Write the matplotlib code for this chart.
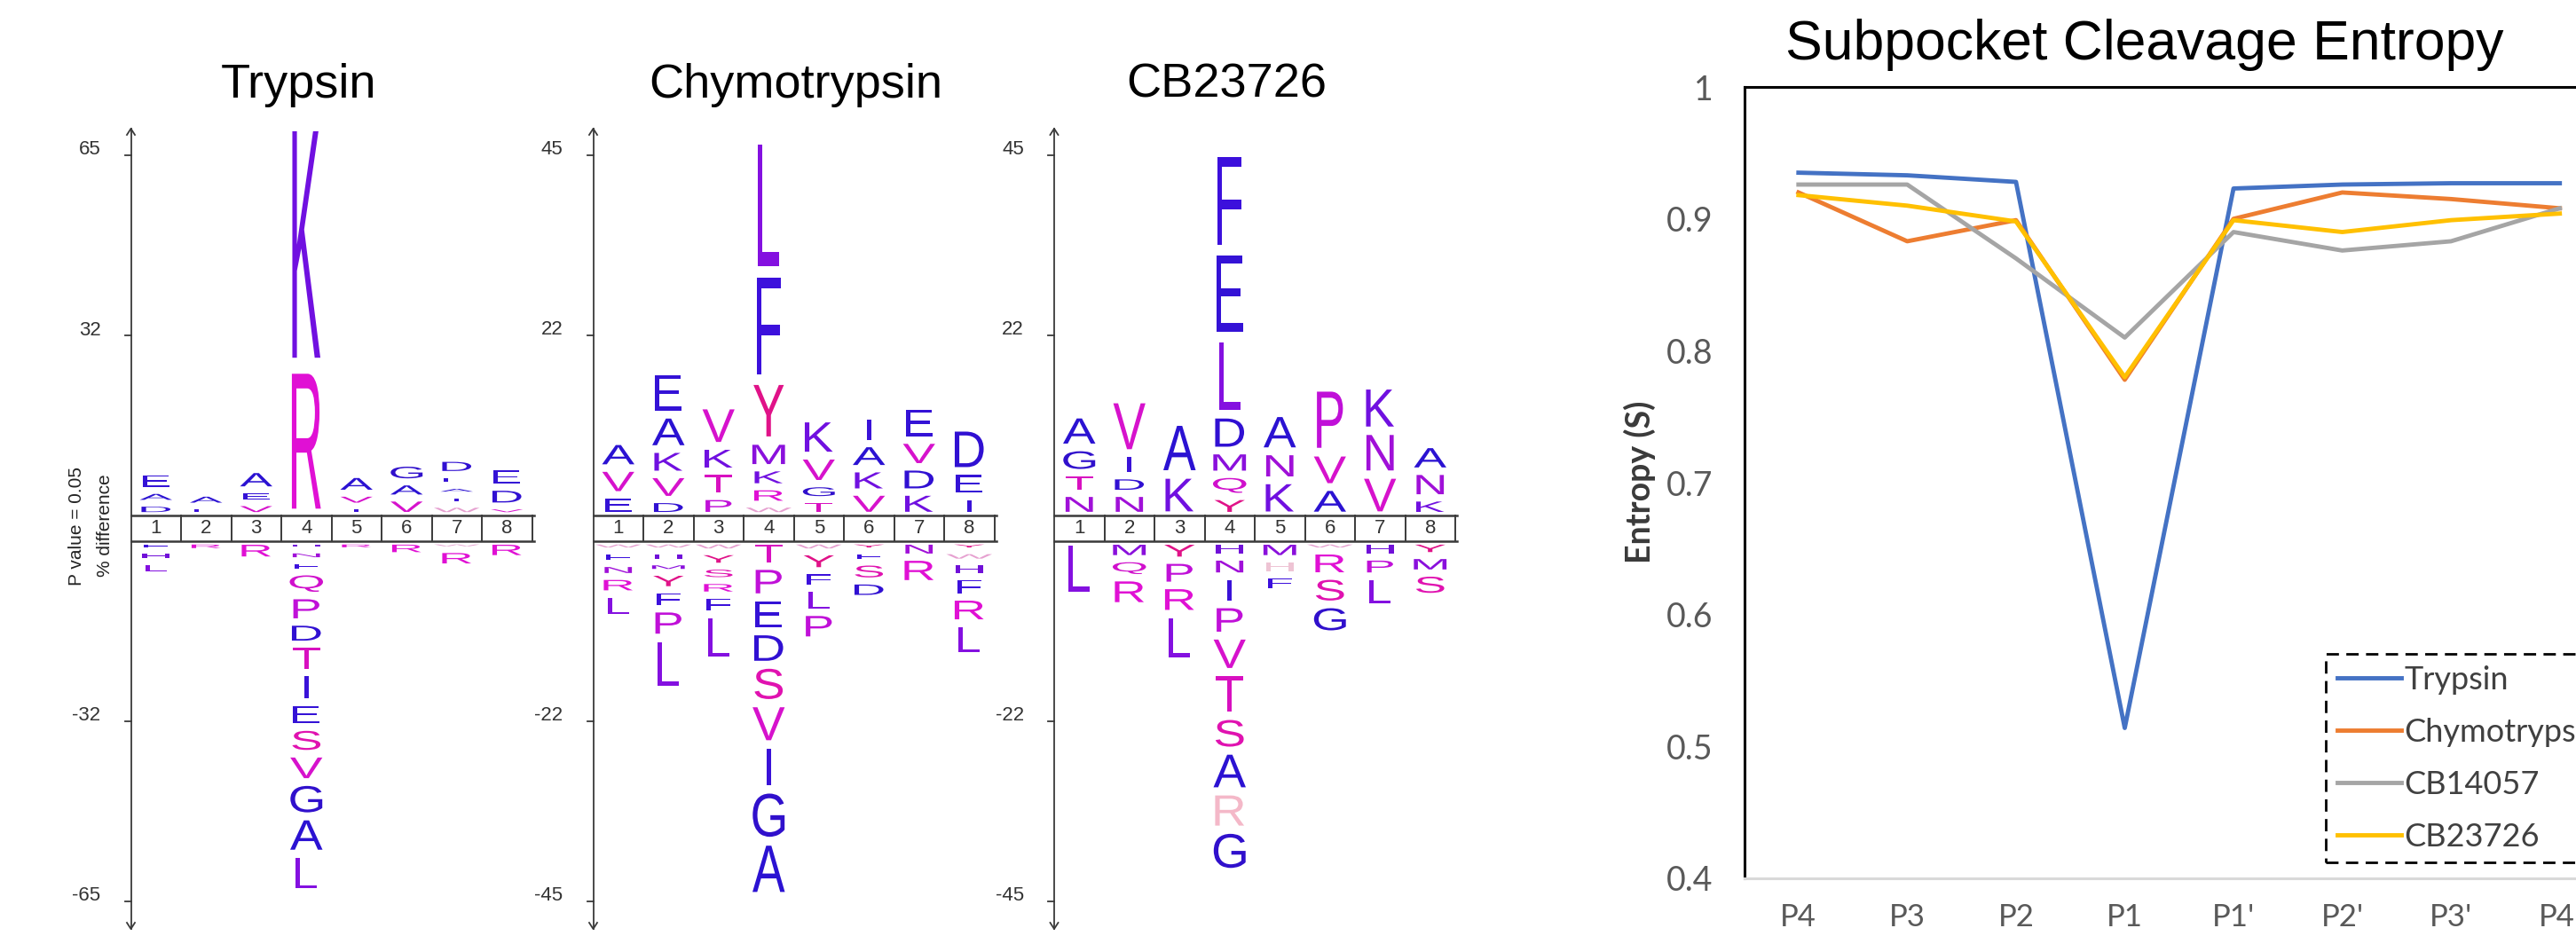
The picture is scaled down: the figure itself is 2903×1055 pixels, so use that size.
import numpy as np
import matplotlib
matplotlib.use('Agg')
import matplotlib.pyplot as plt
from matplotlib.textpath import TextPath
from matplotlib.patches import PathPatch
from matplotlib.font_manager import FontProperties, fontManager
import matplotlib.transforms as mtransforms

# ---- logo data: letters listed from the box outward, heights in % difference ----
positions = [1, 2, 3, 4, 5, 6, 7, 8]

tryp_max = 65
tryp_up = ["DAE", "FA", "VEA", "RK", "IVA", "VAG", "WIAED", "VDE"]
tryp_up_h = [[2.2, 2.3, 3.4], [1.7, 2.3], [2.3, 2.3, 3.7], [26.8, 44.2], [1.7, 2.3, 3.4],
             [3.15, 2.9, 3.4], [2.0, 1.7, 1.7, 2.0, 2.9], [1.7, 3.4, 3.7]]
tryp_dn = ["FHL", "R", "R", "HNFQPDTIESVGAL", "R", "R", "WR", "R"]
tryp_dn_h = [[1.7, 2.0, 2.3], [1.85], [3.4],
             [1.6, 1.9, 2.0, 4.3, 4.8, 4.0, 5.1, 5.4, 4.45, 4.8, 5.1, 6.2, 6.75, 7.0],
             [1.7], [2.6], [1.5, 3.15], [3.15]]

chym_max = 45
chym_up = ["EVA", "DVKAE", "PTKV", "WRKMYFL", "TGVK", "VKAI", "KDVE", "IED"]
chym_up_h = [[2.57, 3.35, 3.35], [1.98, 3.15, 3.15, 4.32, 5.48], [2.37, 3.15, 3.15, 5.1],
             [1.4, 2.18, 2.37, 3.35, 7.58, 13.5, 16.8], [1.98, 1.98, 3.5, 4.67],
             [2.92, 2.92, 3.15, 3.5], [2.92, 3.15, 3.35, 4.32], [2.37, 3.15, 5.48]]
chym_dn = ["WFNRL", "WHMYFPL", "WYSRFL", "TPEDSVIGA", "WYFLP", "YFSD", "NR", "YWHFRL"]
chym_dn_h = [[1.2, 1.6, 1.6, 2.18, 2.95], [1.2, 1.4, 1.28, 2.18, 2.37, 3.6, 6.6],
             [1.32, 1.8, 1.8, 1.8, 2.37, 5.9], [3.1, 3.9, 4.27, 4.16, 4.8, 5.15, 5.6, 6.5, 6.9],
             [1.32, 2.37, 2.18, 3.0, 3.5], [1.2, 1.4, 2.37, 2.18], [1.98, 3.35],
             [1.2, 1.4, 1.79, 2.57, 3.27, 4.08]]

cb_max = 45
cb_up = ["NTGA", "NDIV", "KA", "YQMDLEF", "KNA", "AVP", "VNK", "KNA"]
cb_up_h = [[2.77, 2.57, 3.15, 4.12], [2.77, 2.18, 2.77, 6.85], [5.1, 6.65],
           [2.37, 2.77, 2.95, 4.52, 9.68, 10.85, 12.3], [4.4, 3.6, 4.8], [3.54, 4.32, 8.2],
           [5.1, 5.48, 5.68], [2.18, 3.35, 3.35]]
cb_dn = ["L", "MQR", "YPRL", "HNIPVTSARG", "MHF", "WRSG", "HPL", "YMS"]
cb_dn_h = [[6.85], [2.18, 2.37, 3.54], [2.37, 3.15, 3.54, 5.95],
           [1.98, 2.37, 3.54, 3.9, 4.55, 5.5, 4.32, 5.1, 4.78, 5.3],
           [2.18, 1.98, 2.18], [1.2, 3.15, 3.54, 3.73], [1.98, 2.37, 3.93], [1.79, 2.18, 2.95]]

letter_colors = {
    'A': '#2b12d2', 'E': '#3412d6', 'D': '#3010d2', 'G': '#3010cc', 'I': '#3a12d8',
    'F': '#3c10dc', 'K': '#7010e0', 'L': '#8410e0', 'M': '#8a10dc', 'H': '#7010d8',
    'N': '#a010d8', 'R': '#e010d4', 'V': '#d612cc', 'P': '#c010d8', 'Q': '#d010cc',
    'S': '#e012b0', 'T': '#d810c0', 'Y': '#e01288', 'W': '#e6a0d0',
}
color_overrides = {('cb', 'dn', 4, 8): '#f4b8c8', ('cb', 'dn', 5, 1): '#eec4d4'}

# ---- line chart data ----
sites = ["P4", "P3", "P2", "P1", "P1'", "P2'", "P3'", "P4'"]
trypsin = [0.935, 0.933, 0.928, 0.514, 0.923, 0.926, 0.927, 0.927]
chymotrypsin = [0.920, 0.883, 0.899, 0.778, 0.900, 0.920, 0.915, 0.908]
cb14057 = [0.926, 0.926, 0.870, 0.810, 0.890, 0.876, 0.883, 0.908]
cb23726 = [0.918, 0.910, 0.898, 0.780, 0.899, 0.890, 0.899, 0.904]
series_names = ["Trypsin", "Chymotrypsin", "CB14057", "CB23726"]
series_colors = ['#4472c4', '#ed7d31', '#a5a5a5', '#ffc000']

W, H = 2903, 1055
fig = plt.figure(figsize=(W / 100, H / 100), dpi=100)

names = {f.name for f in fontManager.ttflist}
narrow = 'Liberation Sans Narrow' if 'Liberation Sans Narrow' in names else 'Liberation Sans'
glyph_fp = FontProperties(family='Liberation Sans')


def fig_rect(left, top, right, bottom):
    return [left / W, 1 - bottom / H, (right - left) / W, (bottom - top) / H]


CELL = 56.5
EM_PX = 55.0
BOX_TOP, BOX_BOT = 581, 610
CENTER = (BOX_TOP + BOX_BOT) / 2
SPAN = 406


def draw_glyph(ax, ch, xc, y0, gh, color):
    tp = TextPath((0, 0), ch, size=1, prop=glyph_fp)
    bb = tp.get_extents()
    tr = (mtransforms.Affine2D().translate(-(bb.x0 + bb.x1) / 2, -bb.y0)
          .scale(EM_PX / CELL, gh / bb.height).translate(xc, y0))
    ax.add_patch(PathPatch(tr.transform_path(tp), facecolor=color, edgecolor='none',
                           clip_on=False))


def draw_stack(ax, key, side, pos, letters, heights, b, k):
    sign = 1 if side == 'up' else -1
    y = sign * b
    for i, (ch, h) in enumerate(zip(letters, heights)):
        col = color_overrides.get((key, side, pos, i), letter_colors[ch])
        g = max(0.95 * h - 7.0 / k, 2.0 / k)
        pad = (h - g) / 2
        if sign > 0:
            y0 = y + pad
            y += h
        else:
            y0 = y - h + pad
            y -= h
        draw_glyph(ax, ch, pos - 0.5, y0, g, col)


def draw_logo(key, ax_x, title, title_x, ymax, up, up_h, dn, dn_h, ylabel=False):
    k = SPAN / ymax
    top_px, bot_px = 130, 1060
    ax = fig.add_axes(fig_rect(ax_x, top_px, ax_x + 8 * CELL + 10, bot_px))
    ax.set_xlim(0, (8 * CELL + 10) / CELL)
    ax.set_ylim(-(bot_px - CENTER) / k, (CENTER - top_px) / k)
    ax.axis('off')
    b = (BOX_BOT - BOX_TOP) / 2 / k
    lc = '#3a3a3a'
    # vertical axis with arrows
    ytop = (CENTER - 145) / k
    ybot = -(1047 - CENTER) / k
    ax.plot([0, 0], [ybot, ytop], color=lc, lw=1.3, clip_on=False)
    hw, hl = 4.5 / CELL, 7.0 / k
    ax.plot([-hw, 0, hw], [ytop - hl, ytop, ytop - hl], color=lc, lw=1.3, clip_on=False)
    ax.plot([-hw, 0, hw], [ybot + hl, ybot, ybot + hl], color=lc, lw=1.3, clip_on=False)
    # ticks
    half = int(ymax / 2)
    for v, lab in [(ymax, str(ymax)), (ymax / 2, str(half)),
                   (-ymax / 2, '-' + str(half)), (-ymax, '-' + str(ymax))]:
        yv = (b + v) if v > 0 else (-b + v)
        ax.plot([-7 / CELL, 0], [yv, yv], color=lc, lw=1.3, clip_on=False)
        ax.text(-34 / CELL, yv + 6 / k, lab, ha='right', va='center', fontsize=16,
                family=narrow, color='#333333')
    # position box
    ax.plot([0, 8.04], [b, b], color=lc, lw=1.8, clip_on=False)
    ax.plot([0, 8.04], [-b, -b], color=lc, lw=1.8, clip_on=False)
    for p in positions:
        ax.plot([p, p], [-b, b], color=lc, lw=1.4, clip_on=False)
        ax.text(p - 0.5, 0, str(p), ha='center', va='center', fontsize=16,
                family=narrow, color='#333333')
    for p in positions:
        draw_stack(ax, key, 'up', p, up[p - 1], up_h[p - 1], b, k)
        draw_stack(ax, key, 'dn', p, dn[p - 1], dn_h[p - 1], b, k)
    fig.text(title_x / W, 1 - 110 / H, title, ha='center', va='baseline', fontsize=39,
             family='Liberation Sans', color='black')
    if ylabel:
        fig.text(87 / W, 1 - 593 / H, 'P value = 0.05', rotation=90, ha='center',
                 va='center', fontsize=15, family='Liberation Sans', color='#222222')
        fig.text(118 / W, 1 - 592 / H, '% difference', rotation=90, ha='center',
                 va='center', fontsize=15, family='Liberation Sans', color='#222222')


draw_logo('tryp', 147.5, 'Trypsin', 337, tryp_max, tryp_up, tryp_up_h, tryp_dn, tryp_dn_h,
          ylabel=True)
draw_logo('chym', 668.5, 'Chymotrypsin', 897, chym_max, chym_up, chym_up_h, chym_dn, chym_dn_h)
draw_logo('cb', 1188, 'CB23726', 1382, cb_max, cb_up, cb_up_h, cb_dn, cb_dn_h)

# ---- entropy line chart ----
axl = fig.add_axes(fig_rect(1965.5, 98, 2946, 990))
x = np.arange(len(sites))
for vals, name, col in zip([trypsin, chymotrypsin, cb14057, cb23726], series_names, series_colors):
    axl.plot(x, vals, color=col, lw=3.5, label=name)
axl.set_xlim(-0.5, 7.5)
axl.set_ylim(0.4, 1.0)
yt = [0.4, 0.5, 0.6, 0.7, 0.8, 0.9, 1.0]
axl.set_yticks(yt)
axl.set_yticklabels(['0.4', '0.5', '0.6', '0.7', '0.8', '0.9', '1'])
axl.set_xticks(x)
axl.set_xticklabels(sites)
axl.tick_params(axis='y', length=0, labelsize=27, labelcolor='#595959', pad=25)
axl.tick_params(axis='x', length=0, labelsize=25, labelcolor='#595959', pad=20)
for t in axl.get_xticklabels() + axl.get_yticklabels():
    t.set_family('Lato')
for s in ['top', 'left', 'right']:
    axl.spines[s].set_color('black')
    axl.spines[s].set_linewidth(2.2)
axl.spines['bottom'].set_color('#d9d9d9')
axl.spines['bottom'].set_linewidth(2.2)

fig.text(2417 / W, 1 - 67 / H, 'Subpocket Cleavage Entropy', ha='center', va='baseline',
         fontsize=45, family='Liberation Sans', color='black')
fig.text(1848 / W, 1 - 543 / H, 'Entropy (S)', rotation=90, ha='center', va='center',
         fontsize=27, fontweight='bold', family='Lato', color='#3a3a3a')

leg = axl.legend(loc='upper left', bbox_to_anchor=(0.6685, 0.2836), borderaxespad=0,
                 frameon=True, fancybox=False, framealpha=1, edgecolor='black',
                 handlelength=2.0, handletextpad=0.1, labelspacing=0.72, borderpad=0.35,
                 prop=FontProperties(family='Lato', size=26))
leg.get_frame().set_linestyle((0, (5, 3)))
leg.get_frame().set_linewidth(2)
for t in leg.get_texts():
    t.set_color('#404040')

fig.savefig('out.png', dpi=100)
